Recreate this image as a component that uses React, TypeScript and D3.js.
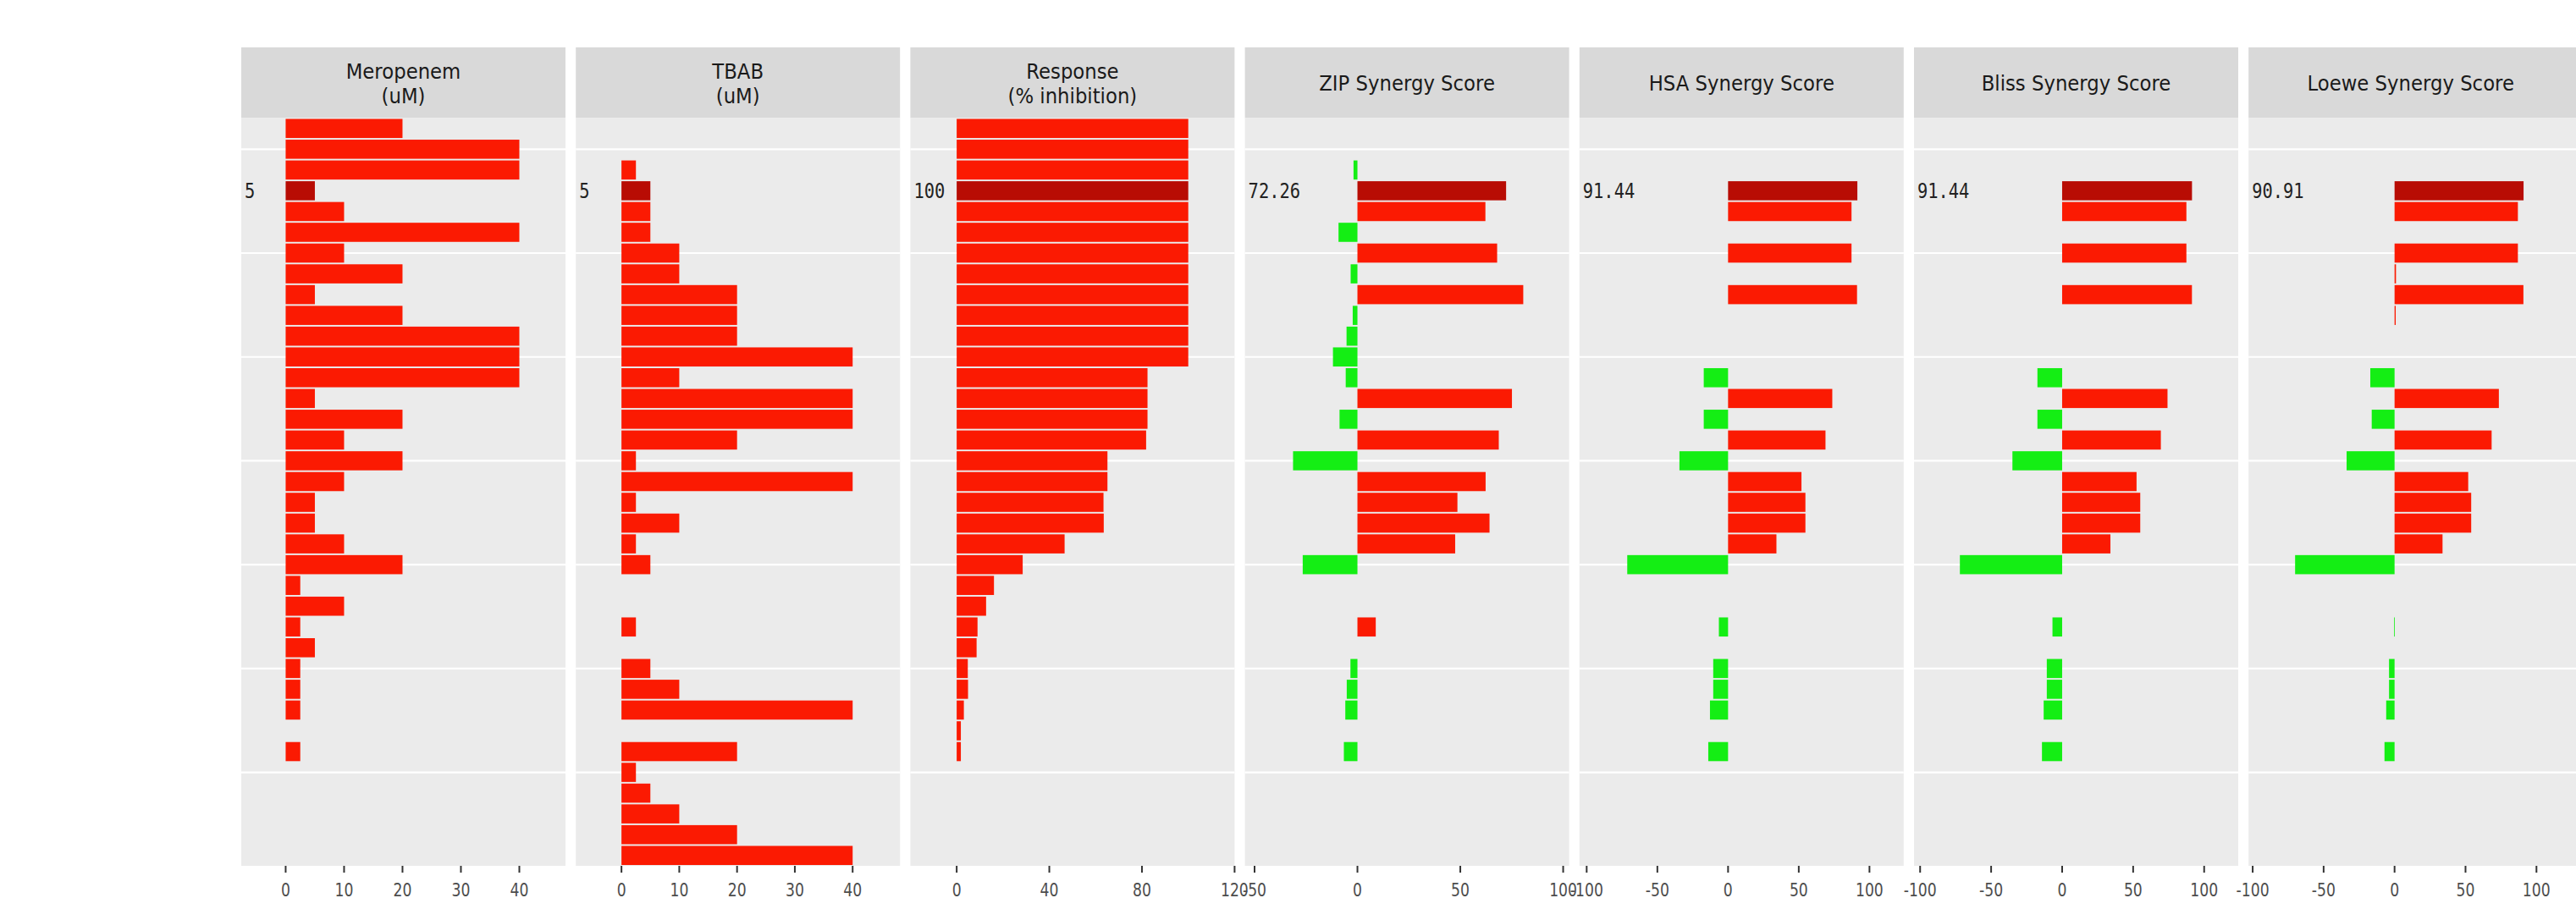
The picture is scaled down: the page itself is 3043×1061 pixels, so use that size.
import React from "react";
import * as d3 from "d3";

// ---- data (rows from top to bottom) ----
const meropenem = [20, 40, 40, 5, 10, 40, 10, 20, 5, 20, 40, 40, 40, 5, 20, 10, 20, 10, 5, 5, 10, 20, 2.5, 10, 2.5, 5, 2.5, 2.5, 2.5, 0, 2.5, 0, 0, 0, 0, 0];
const tbab = [0, 0, 2.5, 5, 5, 5, 10, 10, 20, 20, 20, 40, 10, 40, 40, 20, 2.5, 40, 2.5, 10, 2.5, 5, 0, 0, 2.5, 0, 5, 10, 40, 0, 20, 2.5, 5, 10, 20, 40];
const response = [100, 100, 100, 100, 100, 100, 100, 100, 100, 100, 100, 100, 82.4, 82.4, 82.4, 81.8, 65.1, 65.1, 63.4, 63.5, 46.6, 28.5, 16.1, 12.7, 9.0, 8.6, 4.8, 4.9, 3.1, 1.8, 1.8, 0, 0, 0, 0, 0];
const zip = [0, 0, -1.9, 72.26, 62.2, -9.2, 67.9, -3.3, 80.6, -2.3, -5.3, -11.9, -5.7, 75.1, -8.7, 68.7, -31.3, 62.3, 48.6, 64.2, 47.5, -26.6, 0, 0, 8.9, 0, -3.4, -5.2, -5.9, 0, -6.6, 0, 0, 0, 0, 0];
const hsa = [0, 0, 0, 91.44, 87.3, 0, 87.3, 0, 91.2, 0, 0, 0, -17.2, 73.7, -17.2, 68.9, -34.4, 51.9, 54.7, 54.7, 34.2, -71.3, 0, 0, -6.5, 0, -10.5, -10.5, -12.8, 0, -14.0, 0, 0, 0, 0, 0];
const bliss = [0, 0, 0, 91.44, 87.5, 0, 87.5, 0, 91.4, 0, 0, 0, -17.4, 74.2, -17.4, 69.5, -35.0, 52.4, 55.0, 55.0, 34.0, -72.0, 0, 0, -6.8, 0, -10.8, -10.8, -13.0, 0, -14.2, 0, 0, 0, 0, 0];
const loewe = [0, 0, 0, 90.91, 86.9, 0, 86.9, 1.0, 90.8, 0.8, 0, 0, -17.1, 73.5, -16.1, 68.4, -33.8, 51.9, 54.0, 54.0, 33.8, -70.1, 0, 0, -0.4, 0, -3.9, -3.9, -5.9, 0, -7.1, 0, 0, 0, 0, 0];

const highlightRow = 3;

const panelTitles = [
  ["Meropenem", "(uM)"],
  ["TBAB", "(uM)"],
  ["Response", "(% inhibition)"],
  ["ZIP Synergy Score"],
  ["HSA Synergy Score"],
  ["Bliss Synergy Score"],
  ["Loewe Synergy Score"],
];
const panelValues = [meropenem, tbab, response, zip, hsa, bliss, loewe];
const panelIsScore = [false, false, false, true, true, true, true];
const panelDomains = [
  [-7.6, 47.9],
  [-7.9, 48.2],
  [-20, 120],
  [-54.7, 102.9],
  [-105.1, 124.2],
  [-104.3, 124.0],
  [-102.9, 125.6],
];
const panelTicks = [
  [0, 10, 20, 30, 40],
  [0, 10, 20, 30, 40],
  [0, 40, 80, 120],
  [-50, 0, 50, 100],
  [-100, -50, 0, 50, 100],
  [-100, -50, 0, 50, 100],
  [-100, -50, 0, 50, 100],
];
const gridRows = [1, 6, 11, 16, 21, 26, 31];

// ---- layout ----
const W = 3043;
const H = 1061;
const left0 = 285;
const pitch = 395.2;
const panelW = 383;
const stripTop = 56;
const panelTop = 139.5;
const panelBottom = 1023;

const RED = "#fb1a02";
const DARK = "#b80c04";
const GREEN = "#14ee14";

export default function App() {
  const rows = d3.range(meropenem.length);
  const y = d3
    .scaleBand<number>()
    .domain(rows)
    .range([panelTop, panelBottom])
    .paddingInner(0.08)
    .paddingOuter(0.04);
  const nP = panelValues.length;

  return (
    <div style={{ position: "absolute", left: 0, top: 0 }}>
      <svg width={W} height={H} style={{ display: "block" }}>
        <rect x={0} y={0} width={W} height={H} fill="#ffffff" />
        {panelValues.map((vals, p) => {
          const L = left0 + p * pitch;
          const bgW = p === nP - 1 ? W - L : panelW;
          const x = d3.scaleLinear().domain(panelDomains[p]).range([L, L + panelW]);
          const title = panelTitles[p];
          const hv = vals[highlightRow];
          const label = panelIsScore[p] ? hv.toFixed(2) : String(hv);
          return (
            <g key={p}>
              <rect x={L} y={stripTop} width={bgW} height={panelTop - stripTop} fill="#d9d9d9" />
              <rect x={L} y={panelTop} width={bgW} height={panelBottom - panelTop} fill="#ebebeb" />
              {gridRows.map((r) => (
                <line
                  key={r}
                  x1={L}
                  x2={L + bgW}
                  y1={(y(r) as number) + y.bandwidth() / 2}
                  y2={(y(r) as number) + y.bandwidth() / 2}
                  stroke="#ffffff"
                  strokeWidth={2.2}
                />
              ))}
              {vals.map((v, i) => {
                if (v === 0) return null;
                const x0 = x(Math.min(0, v));
                const x1 = x(Math.max(0, v));
                const fill = i === highlightRow ? DARK : v < 0 ? GREEN : RED;
                return (
                  <rect
                    key={i}
                    x={x0}
                    y={y(i)}
                    width={Math.max(0.8, x1 - x0)}
                    height={y.bandwidth()}
                    fill={fill}
                  />
                );
              })}
              <text
                transform={`translate(${L + 4},${(y(highlightRow) as number) + y.bandwidth() / 2}) scale(0.85,1)`}
                dominantBaseline="central"
                fontFamily="DejaVu Sans Mono"
                fontSize={24}
                fill="#222222"
              >
                {label}
              </text>
              {panelTicks[p].map((t) => (
                <g key={t}>
                  <line x1={x(t)} x2={x(t)} y1={panelBottom} y2={panelBottom + 8} stroke="#333333" strokeWidth={2} />
                  <text
                    transform={`translate(${x(t)},${panelBottom + 36}) scale(0.82,1)`}
                    textAnchor="middle"
                    fontFamily="DejaVu Sans"
                    fontSize={21}
                    fill="#4d4d4d"
                  >
                    {t}
                  </text>
                </g>
              ))}
              {title.length === 2 ? (
                <>
                  <text
                    transform={`translate(${L + panelW / 2},93) scale(0.95,1)`}
                    textAnchor="middle"
                    fontFamily="DejaVu Sans"
                    fontSize={24}
                    fill="#1a1a1a"
                  >
                    {title[0]}
                  </text>
                  <text
                    transform={`translate(${L + panelW / 2},122) scale(0.95,1)`}
                    textAnchor="middle"
                    fontFamily="DejaVu Sans"
                    fontSize={24}
                    fill="#1a1a1a"
                  >
                    {title[1]}
                  </text>
                </>
              ) : (
                <text
                  transform={`translate(${L + panelW / 2},106.5) scale(0.95,1)`}
                  textAnchor="middle"
                  fontFamily="DejaVu Sans"
                  fontSize={24}
                  fill="#1a1a1a"
                >
                  {title[0]}
                </text>
              )}
            </g>
          );
        })}
      </svg>
    </div>
  );
}
